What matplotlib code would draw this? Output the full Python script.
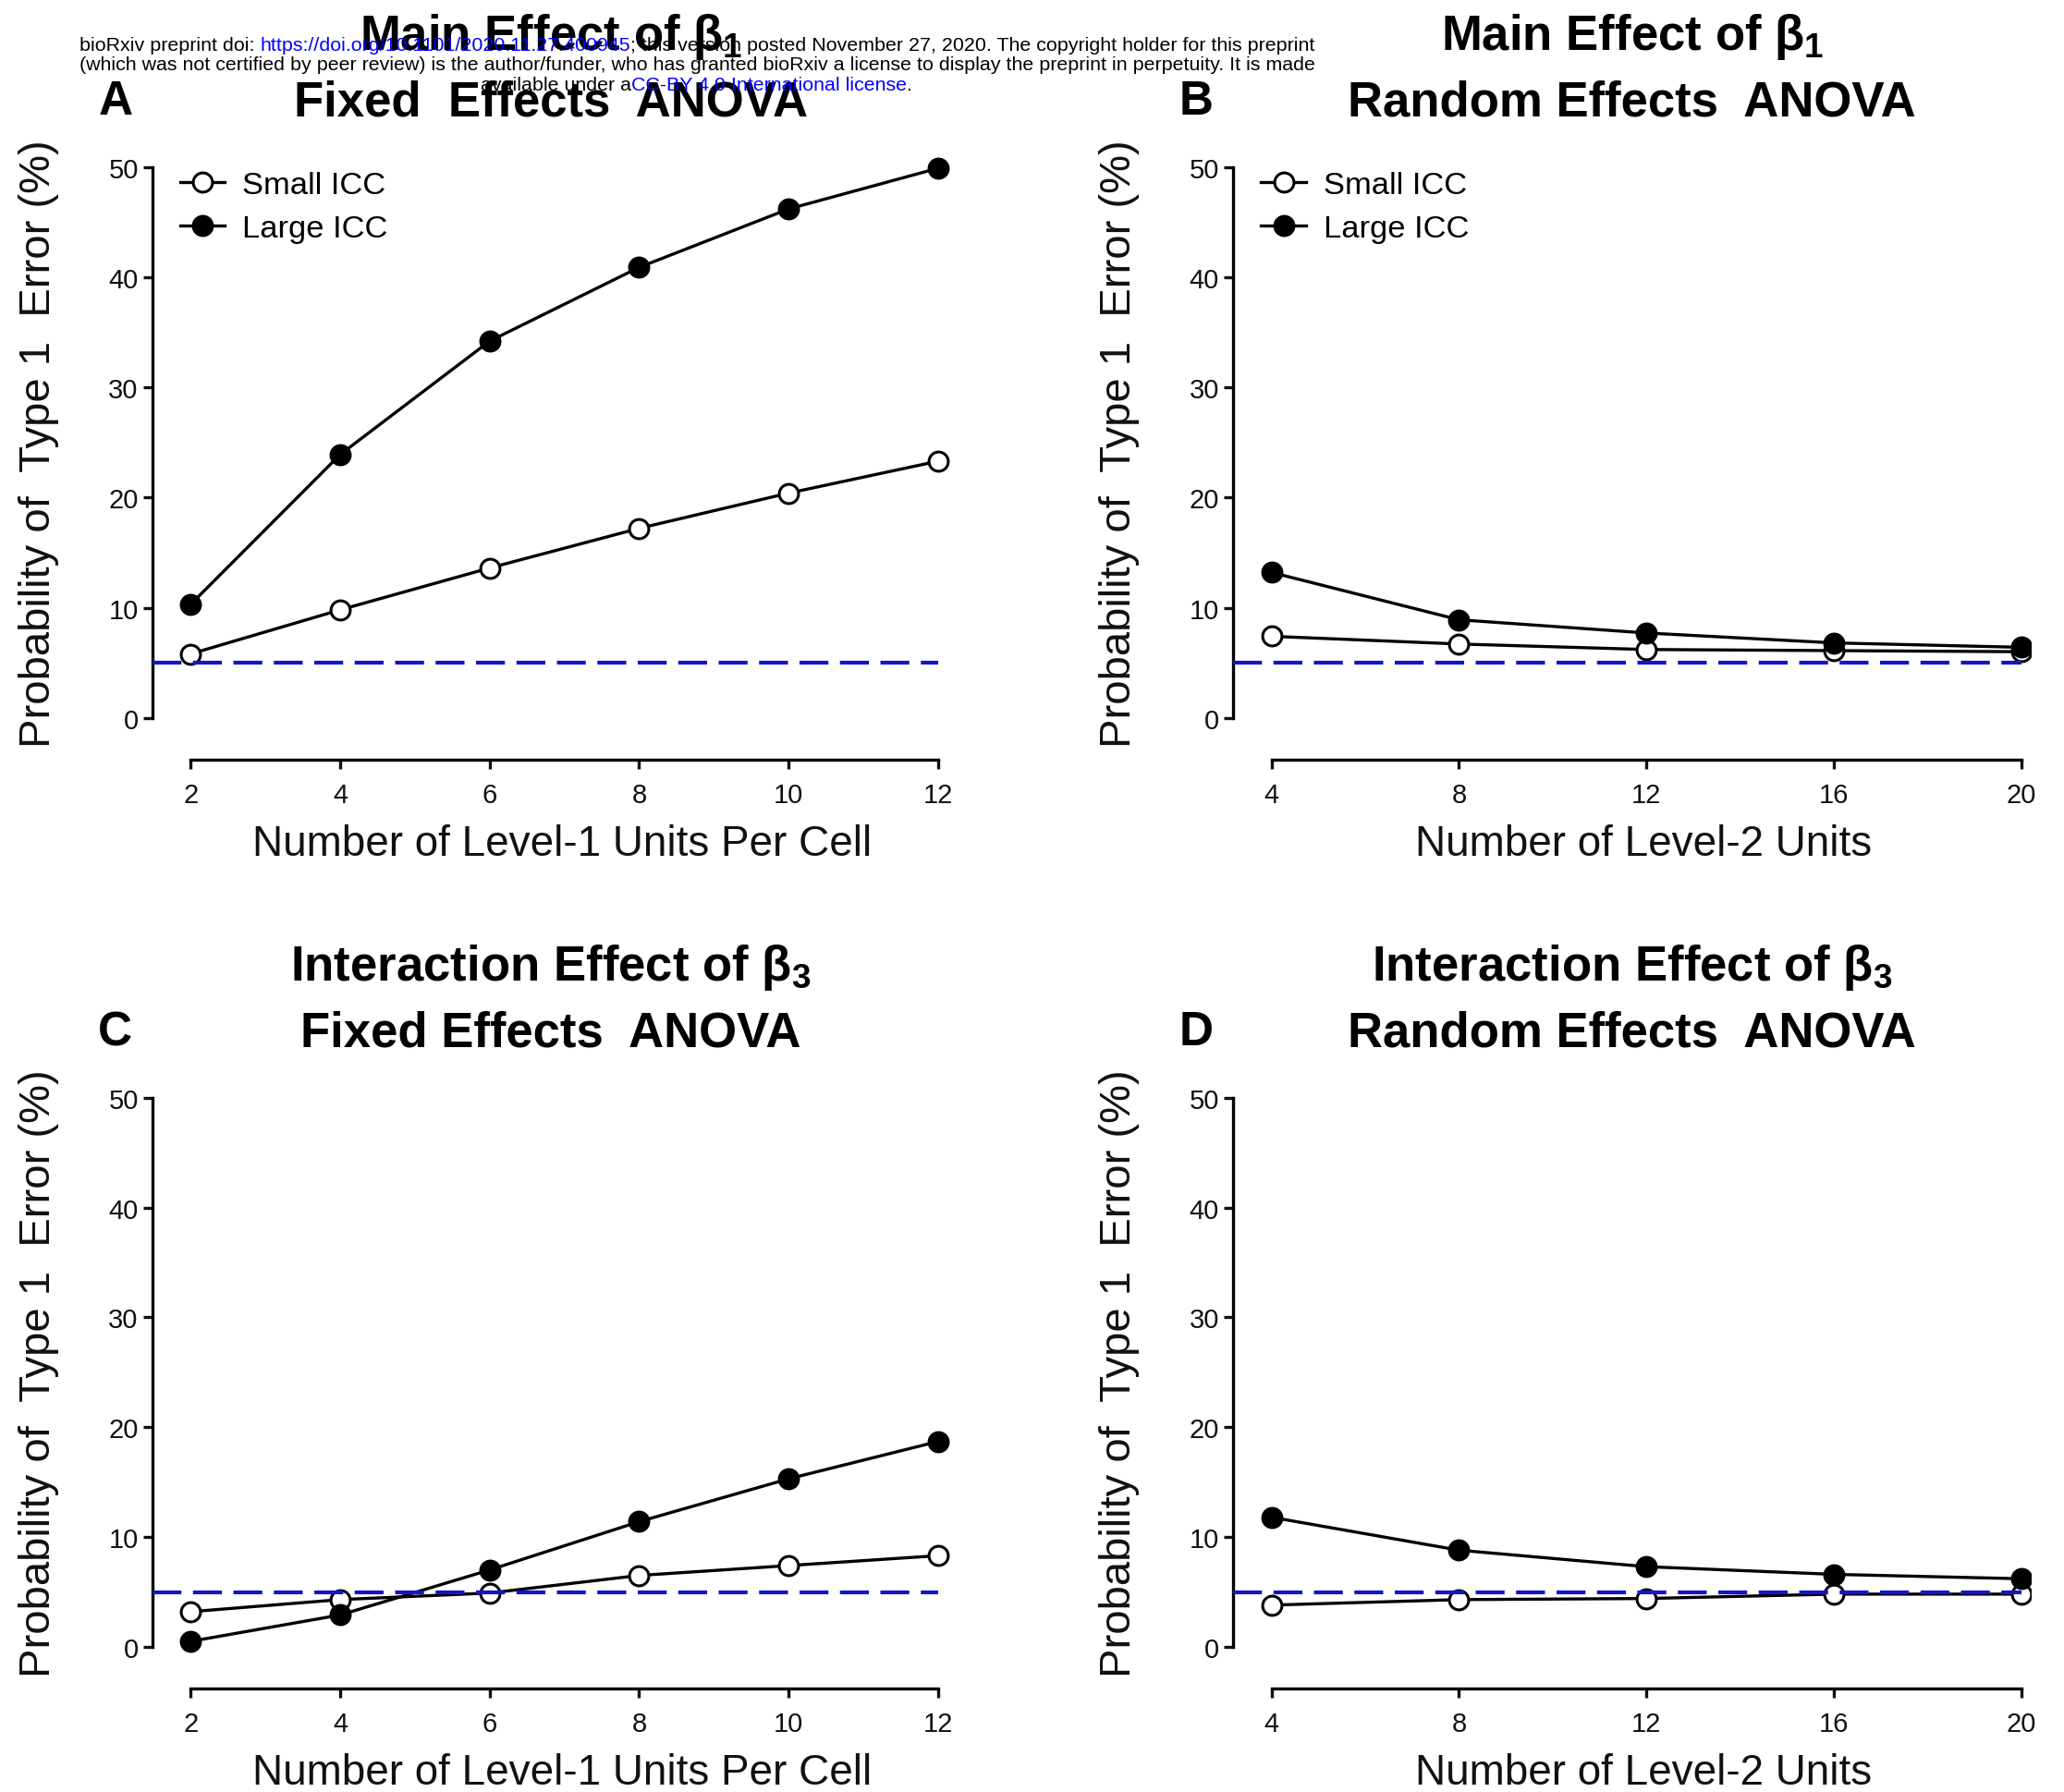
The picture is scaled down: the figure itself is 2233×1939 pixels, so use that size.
import matplotlib
matplotlib.use("Agg")
import matplotlib.pyplot as plt
from matplotlib.font_manager import FontProperties

plt.rcParams['font.family'] = ['Liberation Sans', 'DejaVu Sans']
plt.rcParams['mathtext.fontset'] = 'custom'
plt.rcParams['mathtext.rm'] = 'Liberation Sans:bold'
plt.rcParams['mathtext.it'] = 'Liberation Sans:bold'
plt.rcParams['mathtext.bf'] = 'Liberation Sans:bold'

# -----------------------------
# data
# -----------------------------
level1_units = [2, 4, 6, 8, 10, 12]
level2_units = [4, 8, 12, 16, 20]

main_fixed_small = [5.8, 9.8, 13.6, 17.2, 20.4, 23.3]
main_fixed_large = [10.3, 23.9, 34.2, 40.9, 46.2, 49.9]
main_random_small = [7.4, 6.7, 6.2, 6.1, 6.0]
main_random_large = [13.2, 8.9, 7.7, 6.8, 6.4]
inter_fixed_small = [3.2, 4.3, 4.9, 6.5, 7.4, 8.3]
inter_fixed_large = [0.5, 2.9, 7.0, 11.4, 15.3, 18.7]
inter_random_small = [3.8, 4.3, 4.4, 4.8, 4.8]
inter_random_large = [11.8, 8.8, 7.3, 6.6, 6.2]

nominal_alpha = 5
y_ticks = [0, 10, 20, 30, 40, 50]
series_labels = ["Small ICC", "Large ICC"]
ylabel = "Probability of  Type 1  Error (%)"

header_lines = [
    [("bioRxiv preprint doi: ", "black"),
     ("https://doi.org/10.1101/2020.11.27.400945", "#0000ff"),
     ("; this version posted November 27, 2020. The copyright holder for this preprint", "black")],
    [("(which was not certified by peer review) is the author/funder, who has granted bioRxiv a license to display the preprint in perpetuity. It is made", "black")],
    [("available under a", "black"),
     ("CC-BY 4.0 International license", "#0000ff"),
     (".", "black")],
]

W, H = 2233, 1940
fig = plt.figure(figsize=(W / 100, H / 100), dpi=100)

panels = [
    dict(rect=[0.0739, 0.5758, 0.386, 0.3366], x=level1_units, small=main_fixed_small,
         large=main_fixed_large, xlim=(1.49, 12.15), xlabel="Number of Level-1 Units Per Cell",
         title=[r"Main Effect of $\beta_1$", "Fixed  Effects  ANOVA"], letter="A", legend=True),
    dict(rect=[0.5975, 0.5758, 0.3865, 0.3366], x=level2_units, small=main_random_small,
         large=main_random_large, xlim=(3.185, 20.2), xlabel="Number of Level-2 Units",
         title=[r"Main Effect of $\beta_1$", "Random Effects  ANOVA"], letter="B", legend=True),
    dict(rect=[0.0739, 0.0577, 0.386, 0.3356], x=level1_units, small=inter_fixed_small,
         large=inter_fixed_large, xlim=(1.49, 12.15), xlabel="Number of Level-1 Units Per Cell",
         title=[r"Interaction Effect of $\beta_3$", "Fixed Effects  ANOVA"], letter="C", legend=False),
    dict(rect=[0.5975, 0.0577, 0.3865, 0.3356], x=level2_units, small=inter_random_small,
         large=inter_random_large, xlim=(3.185, 20.2), xlabel="Number of Level-2 Units",
         title=[r"Interaction Effect of $\beta_3$", "Random Effects  ANOVA"], letter="D", legend=False),
]

for p in panels:
    ax = fig.add_axes(p["rect"])
    ax.set_xlim(*p["xlim"])
    ax.set_ylim(-3.8, 51)

    ax.plot(p["x"], p["small"], "-o", color="black", lw=2.4, ms=15, mfc="white",
            mec="black", mew=2.2, label=series_labels[0], zorder=3)
    ax.plot(p["x"], p["large"], "-o", color="black", lw=2.4, ms=15, mfc="black",
            mec="black", mew=2.2, label=series_labels[1], zorder=3)
    ax.plot([p["xlim"][0], p["x"][-1]], [nominal_alpha, nominal_alpha], color="#1414cc",
            lw=3.0, dashes=(7.5, 3), zorder=4)

    for s in ["top", "right"]:
        ax.spines[s].set_visible(False)
    ax.spines["left"].set_bounds(0, 50)
    ax.spines["bottom"].set_bounds(p["x"][0], p["x"][-1])
    for s in ["left", "bottom"]:
        ax.spines[s].set_linewidth(2.4)
    ax.set_yticks(y_ticks)
    ax.set_xticks(p["x"])
    ax.tick_params(direction="out", length=7, width=2.4, labelsize=21, colors="#111111")
    ax.tick_params(axis="y", pad=4)
    ax.tick_params(axis="x", pad=10)

    ax.set_xlabel(p["xlabel"], fontsize=33, color="#111111")
    ax.xaxis.set_label_coords(0.514, -0.106)
    ax.set_ylabel(ylabel, fontsize=34, color="#111111")
    ax.yaxis.set_label_coords(-0.117, 0.525)

    if p["legend"]:
        ax.legend(loc="upper left", bbox_to_anchor=(0.035, 0.975), frameon=False,
                  fontsize=24.8, handlelength=1.4, handletextpad=0.55, labelspacing=0.45,
                  borderpad=0, borderaxespad=0)

    bb = ax.get_position()
    cx = (bb.x0 + bb.x1) / 2
    top = bb.y1
    fig.text(cx, top + 0.067, p["title"][0], ha="center", va="center", fontsize=38,
             fontweight="bold")
    fig.text(cx, top + 0.030, p["title"][1], ha="center", va="center", fontsize=38,
             fontweight="bold")
    fig.text(bb.x0 - 0.0180, top + 0.0305, p["letter"], ha="center", va="center",
             fontsize=37, fontweight="bold")

# header text with coloured link runs
renderer = fig.canvas.get_renderer()
hdr_size = 15.4
fp = FontProperties(family=["Liberation Sans"], size=hdr_size)


def text_w(s):
    w, _, _ = renderer.get_text_width_height_descent(s, fp, ismath=False)
    return w


header_pos = [(0.0385, 0.9716), (0.0385, 0.9608), (0.2329, 0.9495)]
for runs, (x0, y0) in zip(header_lines, header_pos):
    prefix = ""
    for s, c in runs:
        stripped = s.lstrip(" ")
        if prefix or stripped != s:
            off = text_w(prefix + s[:len(s) - len(stripped)] + "I") - text_w("I")
        else:
            off = 0
        fig.text(x0 + off / W, y0, stripped, color=c, fontsize=hdr_size, va="baseline",
                 ha="left", zorder=10)
        prefix += s

fig.savefig("out.png", dpi=100)
